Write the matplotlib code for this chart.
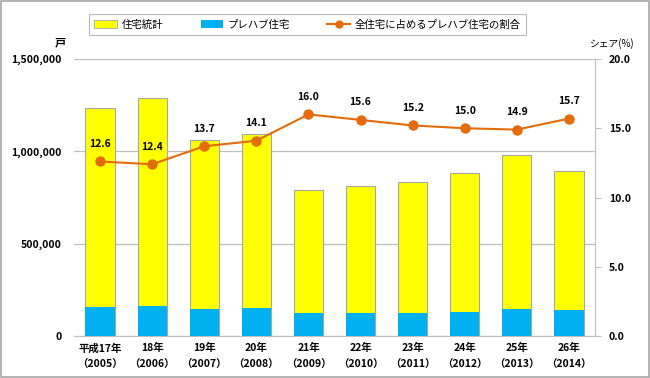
import matplotlib
matplotlib.use("Agg")
import matplotlib.pyplot as plt
from matplotlib.patches import Patch
from matplotlib.lines import Line2D

plt.rcParams['font.family'] = ['Noto Sans CJK JP', 'DejaVu Sans']

categories = ["平成17年\n（2005）", "18年\n（2006）", "19年\n（2007）", "20年\n（2008）", "21年\n（2009）",
              "22年\n（2010）", "23年\n（2011）", "24年\n（2012）", "25年\n（2013）", "26年\n（2014）"]
total_housing = [1236175, 1290391, 1060741, 1093519, 788410, 813126, 834117, 882797, 980025, 892261]
prefab_housing = [156000, 160000, 145000, 154000, 126000, 127000, 127000, 132000, 146000, 140000]
share_pct = [12.6, 12.4, 13.7, 14.1, 16.0, 15.6, 15.2, 15.0, 14.9, 15.7]

yellow = '#FFFF00'
blue = '#00B0F0'
orange = '#E46C0A'
grid_c = '#BFBFBF'

fig = plt.figure(figsize=(6.5, 3.78), dpi=100)
ax = fig.add_axes([0.1138, 0.111, 0.8016, 0.733])
x = list(range(len(categories)))
w = 0.56
ax.bar(x, total_housing, width=w, color=yellow, edgecolor='#A6A6A6', linewidth=0.8, zorder=2)
ax.bar(x, prefab_housing, width=w, color=blue, edgecolor='none', zorder=3)
ax.set_ylim(0, 1500000)
ax.set_xlim(-0.5, len(categories) - 0.5)
ax.set_yticks([0, 500000, 1000000, 1500000])
ax.set_yticklabels(['0', '500,000', '1,000,000', '1,500,000'], fontsize=7.5, fontweight='bold')
ax.yaxis.grid(True, color=grid_c, linewidth=0.9, zorder=0)
ax.set_axisbelow(True)
ax.tick_params(axis='y', length=0, pad=9)
ax.set_xticks(x)
ax.set_xticklabels(categories, fontsize=7.5, fontweight='bold', linespacing=1.8)
ax.tick_params(axis='x', length=0, pad=5)
for s in ['left', 'top', 'right']:
    ax.spines[s].set_visible(False)
ax.spines['bottom'].set_color(grid_c)

ax2 = ax.twinx()
ax2.plot(x, share_pct, color=orange, linewidth=1.5, marker='o', markersize=6.5, zorder=5)
ax2.set_ylim(0, 20)
ax2.set_yticks([0, 5, 10, 15, 20])
ax2.set_yticklabels(['0.0', '5.0', '10.0', '15.0', '20.0'], fontsize=7.5, fontweight='bold')
ax2.tick_params(axis='y', length=4, color=grid_c, pad=6)
for s in ['left', 'top', 'bottom']:
    ax2.spines[s].set_visible(False)
ax2.spines['right'].set_color(grid_c)
for xi, v in zip(x, share_pct):
    ax2.annotate(f'{v:.1f}', (xi, v), xytext=(0, 9), textcoords='offset points',
                 ha='center', va='bottom', fontsize=7.5, fontweight='bold')

fig.text(0.092, 0.888, '戸', fontsize=8, fontweight='bold', ha='center', va='center')
fig.text(0.942, 0.886, 'シェア(%)', fontsize=7, ha='center', va='center')

handles = [Patch(facecolor=yellow, edgecolor='#A6A6A6', linewidth=0.6),
           Patch(facecolor=blue, edgecolor='none'),
           Line2D([0], [0], color=orange, linewidth=1.5, marker='o', markersize=5)]
labels = ['住宅統計', 'プレハブ住宅', '全住宅に占めるプレハブ住宅の割合']
leg = fig.legend(handles, labels, loc='center', bbox_to_anchor=(0.473, 0.935), ncol=3,
                 fontsize=7.5, frameon=True, fancybox=False, edgecolor='#A6A6A6',
                 handlelength=2.2, handleheight=0.7, handletextpad=0.4,
                 columnspacing=3.6, borderpad=0.5, borderaxespad=0)
leg.get_frame().set_linewidth(0.8)

border = plt.Rectangle((0.002, 0.003), 0.996, 0.994, transform=fig.transFigure, fill=False,
                       edgecolor='#A6A6A6', linewidth=1.2)
fig.patches.append(border)

fig.savefig('out.png', dpi=100)
